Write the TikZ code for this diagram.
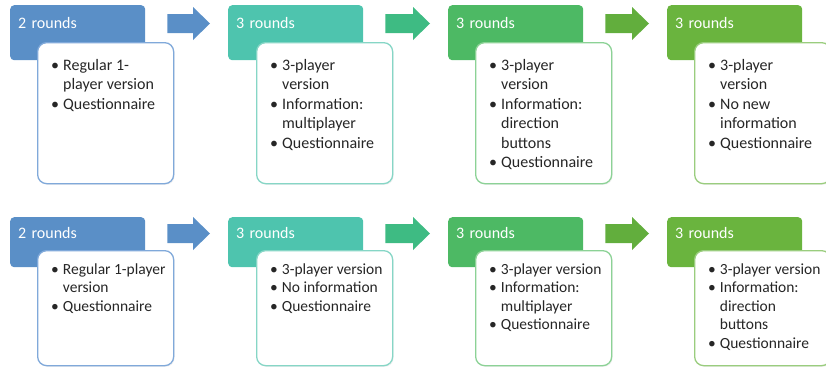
\documentclass[tikz,border=0pt]{standalone}
\usepackage{fontspec}
\setmainfont{Carlito}
\usetikzlibrary{calc,shadows}
\definecolor{cBlue}{HTML}{5A8FC7}
\definecolor{cBlueL}{HTML}{80A9DA}
\definecolor{cTeal}{HTML}{4EC4AE}
\definecolor{cTealL}{HTML}{86D6C6}
\definecolor{cGreen}{HTML}{4DB964}
\definecolor{cGreenL}{HTML}{8CD296}
\definecolor{cLime}{HTML}{6AB43E}
\definecolor{cLimeL}{HTML}{9ACD7E}
\definecolor{aTeal}{HTML}{3EBB83}
\definecolor{aLime}{HTML}{62AE3D}
\definecolor{txt}{HTML}{262626}
\newcommand\itemlist[1]{\begin{tabular}{@{}l@{\hspace{4pt}}l@{}}#1\end{tabular}}
\newcommand\bu{\textbullet}
\newcommand\flowarrow[3]{%
  \fill[#3] ($(#1)+(0,-9.5)$) -- ($(#2)+(-17,-9.5)$) -- ($(#2)+(-17,-16.5)$) -- (#2)
    -- ($(#2)+(-17,16.5)$) -- ($(#2)+(-17,9.5)$) -- ($(#1)+(0,9.5)$) -- cycle;}
\tikzset{
  hdr/.style={fill=#1, rounded corners=4pt, anchor=north west, inner xsep=8pt, inner ysep=0pt,
    minimum width=135pt, text width=119pt, align=left, text=white,
    font=\fontsize{16}{19}\selectfont},
  hdrtop/.style={minimum height=55pt, text height=23pt, text depth=32pt},
  hdrbot/.style={minimum height=50pt, text height=21pt, text depth=29pt},
  card/.style={draw=#1, line width=1.3pt, fill=white, rounded corners=9pt, anchor=north west,
    minimum width=136pt, inner sep=0pt,
    drop shadow={opacity=0.12, shadow xshift=1pt, shadow yshift=-1.2pt}},
  cardtop/.style={minimum height=141pt},
  cardbot/.style={minimum height=115pt},
  body/.style={anchor=north west, inner sep=0pt, text=txt, font=\fontsize{16}{19.5}\selectfont},
  bodybot/.style={anchor=north west, inner sep=0pt, text=txt, font=\fontsize{15.5}{18.5}\selectfont}
}
\begin{document}
\begin{tikzpicture}[x=1pt,y=-1pt]
\useasboundingbox (0,0) rectangle (826,368);
% ---------- top row ----------
\node[hdr=cBlue, hdrtop]  (h1) at (10,5)  {2 rounds};
\node[hdr=cTeal, hdrtop]  (h2) at (228,5) {3 rounds};
\node[hdr=cGreen, hdrtop] (h3) at (448,5) {3 rounds};
\node[hdr=cLime, hdrtop]  (h4) at (667,5) {3 rounds};
\node[card=cBlueL, cardtop]  (c1) at (37,42)  {};
\node[card=cTealL, cardtop]  (c2) at (256,42) {};
\node[card=cGreenL, cardtop] (c3) at (475,42) {};
\node[card=cLimeL, cardtop]  (c4) at (694,42) {};
\node[body] (t1) at ([xshift=14pt,yshift=-14.5pt]c1.north west)
  {\itemlist{\bu & Regular 1-\\ & player version\\ \bu & Questionnaire}};
\node[body] (t2) at ([xshift=14pt,yshift=-14.5pt]c2.north west)
  {\itemlist{\bu & 3-player\\ & version\\ \bu & Information:\\ & multiplayer\\ \bu & Questionnaire}};
\node[body] (t3) at ([xshift=14pt,yshift=-14.5pt]c3.north west)
  {\itemlist{\bu & 3-player\\ & version\\ \bu & Information:\\ & direction\\ & buttons\\ \bu & Questionnaire}};
\node[body] (t4) at ([xshift=14pt,yshift=-14.5pt]c4.north west)
  {\itemlist{\bu & 3-player\\ & version\\ \bu & No new\\ & information\\ \bu & Questionnaire}};
\coordinate (a1s) at ([xshift=22pt,yshift=-18.5pt]h1.north east);
\coordinate (a1e) at ([xshift=-18pt,yshift=-18.5pt]h2.north west);
\coordinate (a2s) at ([xshift=22pt,yshift=-18.5pt]h2.north east);
\coordinate (a2e) at ([xshift=-18pt,yshift=-18.5pt]h3.north west);
\coordinate (a3s) at ([xshift=22pt,yshift=-18.5pt]h3.north east);
\coordinate (a3e) at ([xshift=-18pt,yshift=-18.5pt]h4.north west);
\flowarrow{a1s}{a1e}{cBlue}
\flowarrow{a2s}{a2e}{aTeal}
\flowarrow{a3s}{a3e}{aLime}
% ---------- bottom row ----------
\node[hdr=cBlue, hdrbot]  (g1) at (10,217)  {2 rounds};
\node[hdr=cTeal, hdrbot]  (g2) at (228,217) {3 rounds};
\node[hdr=cGreen, hdrbot] (g3) at (448,217) {3 rounds};
\node[hdr=cLime, hdrbot]  (g4) at (667,217) {3 rounds};
\node[card=cBlueL, cardbot]  (d1) at (37,250)  {};
\node[card=cTealL, cardbot]  (d2) at (256,250) {};
\node[card=cGreenL, cardbot] (d3) at (475,250) {};
\node[card=cLimeL, cardbot]  (d4) at (694,250) {};
\node[bodybot] (u1) at ([xshift=14pt,yshift=-11pt]d1.north west)
  {\itemlist{\bu & Regular 1-player\\ & version\\ \bu & Questionnaire}};
\node[bodybot] (u2) at ([xshift=14pt,yshift=-11pt]d2.north west)
  {\itemlist{\bu & 3-player version\\ \bu & No information\\ \bu & Questionnaire}};
\node[bodybot] (u3) at ([xshift=14pt,yshift=-11pt]d3.north west)
  {\itemlist{\bu & 3-player version\\ \bu & Information:\\ & multiplayer\\ \bu & Questionnaire}};
\node[bodybot] (u4) at ([xshift=14pt,yshift=-11pt]d4.north west)
  {\itemlist{\bu & 3-player version\\ \bu & Information:\\ & direction\\ & buttons\\ \bu & Questionnaire}};
\coordinate (b1s) at ([xshift=22pt,yshift=-16.5pt]g1.north east);
\coordinate (b1e) at ([xshift=-18pt,yshift=-16.5pt]g2.north west);
\coordinate (b2s) at ([xshift=22pt,yshift=-16.5pt]g2.north east);
\coordinate (b2e) at ([xshift=-18pt,yshift=-16.5pt]g3.north west);
\coordinate (b3s) at ([xshift=22pt,yshift=-16.5pt]g3.north east);
\coordinate (b3e) at ([xshift=-18pt,yshift=-16.5pt]g4.north west);
\flowarrow{b1s}{b1e}{cBlue}
\flowarrow{b2s}{b2e}{aTeal}
\flowarrow{b3s}{b3e}{aLime}
\end{tikzpicture}
\end{document}
